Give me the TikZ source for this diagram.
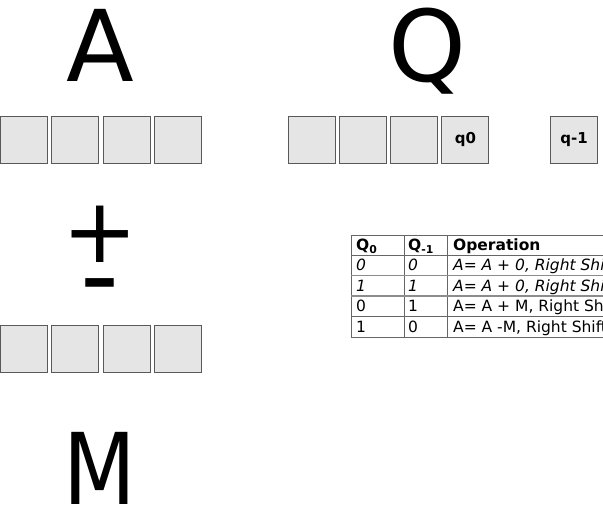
\documentclass[tikz,border=0pt]{standalone}
\usepackage{fontspec}
\setmainfont{DejaVu Sans}
\usepackage{tikz}
\colorlet{cell edge}{black!65}
\colorlet{cell area}{black!10}
\colorlet{rule line}{black!60}
\tikzset{cell/.style={draw=cell edge, fill=cell area, line width=1pt,
        minimum size=47pt, inner sep=0pt, font=\bfseries\fontsize{15}{15}\selectfont},
    bigletter/.style={font=\fontsize{99}{99}\selectfont, inner sep=0pt, anchor=base},
    tabrm/.style={font=\fontsize{15.5}{15.5}\selectfont, inner sep=0pt, anchor=base west},
    tabit/.style={tabrm, font=\itshape\fontsize{15.5}{15.5}\selectfont},
    tabhead/.style={tabrm, font=\bfseries\fontsize{15.5}{15.5}\selectfont}}

\begin{document}
\begin{tikzpicture}[x=1pt, y=-1pt]
    \clip (0,0) rectangle (603,504);
    % registers
    \node[bigletter] (A) at (100,81) {A};
    \node[bigletter] (Q) at (427,81) {Q};
    \node[bigletter, xscale=0.85, transform shape] (M) at (100,504) {M};
    \node[bigletter, font=\fontsize{90}{90}\selectfont] (plus) at (100,262) {+};
    \node[bigletter, font=\fontsize{108}{108}\selectfont] (minus) at (100,312) {-};
    \foreach \i in {1,...,4} {
        \node[cell] (a\i) at ({24+51.3*(\i-1)},139.5) {};
        \node[cell] (m\i) at ({24+51.3*(\i-1)},348.5) {};
    }
    \foreach \i/\lbl in {1/{},2/{},3/{},4/q0} {
        \node[cell] (q\i) at ({311.5+51.3*(\i-1)},139.5) {\lbl};
    }
    \node[cell] (qminus) at (574,139.5) {q-1};
    % booth table
    \draw[rule line, line width=1pt] (351,235) rectangle (612,337);
    \draw[rule line, line width=1pt] (404,235) -- (404,337) (447,235) -- (447,337);
    \draw[rule line, line width=1pt] (351,255) -- (612,255);
    \draw[black!45, line width=1.6pt] (351,275.5) -- (612,275.5) (351,296) -- (612,296);
    \draw[rule line, line width=1pt] (351,316.5) -- (612,316.5);
    \node[tabhead] (hq0) at (356,250.5) {Q\textsubscript{0}};
    \node[tabhead] (hq1) at (408,250.5) {Q\textsubscript{-1}};
    \node[tabhead] (hop) at (453,250.5) {Operation};
    \foreach \qa/\qb/\op/\fs [count=\r] in {0/0/{A= A + 0, Right Shift}/tabit,
        1/1/{A= A + 0, Right Shift}/tabit, 0/1/{A= A + M, Right Shift}/tabrm,
        1/0/{A= A -M, Right Shift}/tabrm} {
        \node[\fs] (qz\r) at (356,{255+20.5*\r-5}) {\qa};
        \node[\fs] (qm\r) at (408,{255+20.5*\r-5}) {\qb};
        \node[\fs] (op\r) at (453,{255+20.5*\r-5}) {\op};
    }
\end{tikzpicture}
\end{document}
